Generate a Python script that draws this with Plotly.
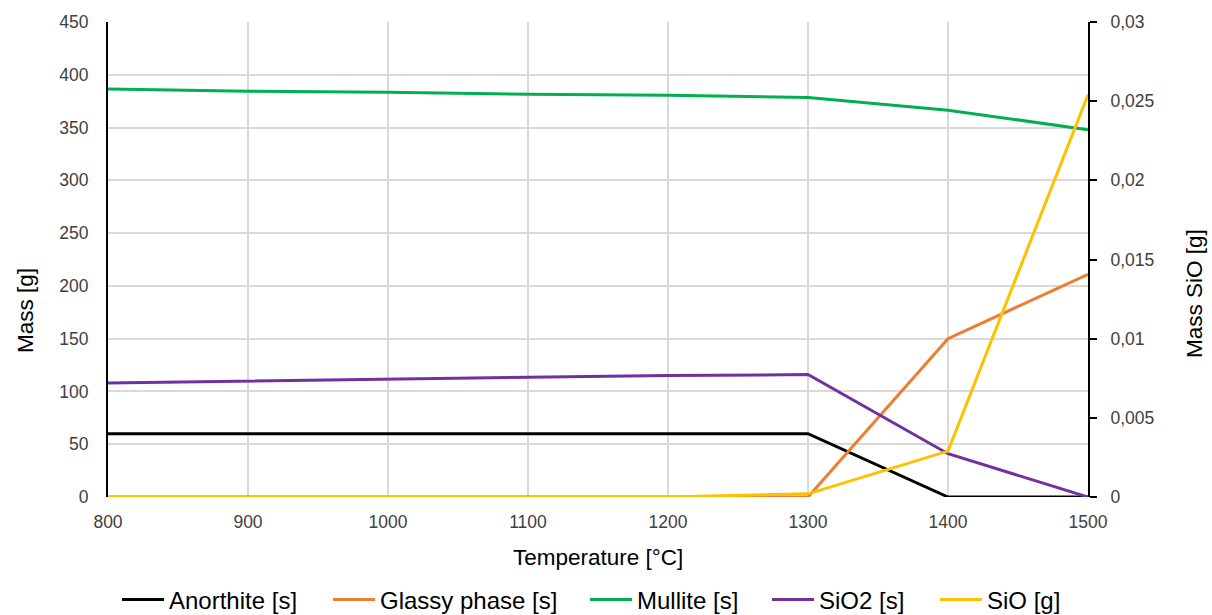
import plotly.graph_objects as go

# Temperatures [°C]
temperature = [800, 900, 1000, 1100, 1200, 1300, 1400, 1500]

# Phase masses [g] (left axis)
anorthite = [60, 60, 60, 60, 60, 60, 0, 0]
glassy_phase = [0, 0, 0, 0, 0, 0, 150, 211]
mullite = [386.5, 384.5, 383.5, 381.5, 380.5, 378.5, 366.5, 348]
sio2 = [108, 110, 112, 113.5, 115, 116, 41, 0]

# SiO gas mass [g] (right axis)
sio = [0, 0, 0, 0, 0, 0.0002, 0.0029, 0.0254]

left_ticks = [0, 50, 100, 150, 200, 250, 300, 350, 400, 450]
right_ticks = [0, 0.005, 0.01, 0.015, 0.02, 0.025, 0.03]
right_tick_text = ["0", "0,005", "0,01", "0,015", "0,02", "0,025", "0,03"]
x_ticks = [800, 900, 1000, 1100, 1200, 1300, 1400, 1500]

W, H = 1212, 615
FONT = "Liberation Sans, Arial, sans-serif"
tick_font = dict(family=FONT, size=17.5, color="#404040")
title_font = dict(family=FONT, size=22.5, color="#000000")
legend_font = dict(family=FONT, size=24, color="#000000")

series = [
    ("Anorthite [s]", anorthite, "#000000", "y"),
    ("Glassy phase [s]", glassy_phase, "#ED7D31", "y"),
    ("Mullite [s]", mullite, "#00B050", "y"),
    ("SiO2 [s]", sio2, "#7030A0", "y"),
    ("SiO [g]", sio, "#FFC000", "y2"),
]
# left edge of each legend entry's line sample, in pixels
legend_x_px = [122, 333, 590, 772, 940]

fig = go.Figure()
layout_legends = {}
for i, (name, values, color, axis) in enumerate(series):
    key = "legend" if i == 0 else f"legend{i + 1}"
    fig.add_trace(go.Scatter(
        x=temperature, y=values, name=name, mode="lines",
        line=dict(color=color, width=3), yaxis=axis, legend=key,
    ))
    layout_legends[key] = dict(
        xref="container", yref="container",
        x=(legend_x_px[i] - 5) / W, xanchor="left",
        y=1 - 600 / H, yanchor="middle",
        font=legend_font, itemwidth=42, bgcolor="rgba(0,0,0,0)",
    )

fig.update_layout(
    width=W, height=H,
    margin=dict(l=108, r=124, t=22, b=118, autoexpand=False),
    plot_bgcolor="white", paper_bgcolor="white",
    showlegend=True,
    xaxis=dict(
        range=[800, 1500], tickvals=x_ticks, showgrid=True, gridcolor="#d9d9d9", gridwidth=1.5,
        showline=False, zeroline=False, ticks="", tickfont=tick_font,
        ticklabelstandoff=12, automargin=False,
    ),
    yaxis=dict(
        range=[0, 450], tickvals=left_ticks, showgrid=True, gridcolor="#d9d9d9", gridwidth=1.5,
        showline=True, linecolor="#000000", linewidth=2, zeroline=False, ticks="",
        tickfont=tick_font, ticklabelstandoff=14, automargin=False,
    ),
    yaxis2=dict(
        range=[0, 0.03], tickvals=right_ticks, ticktext=right_tick_text,
        overlaying="y", side="right", showgrid=False, zeroline=False,
        showline=True, linecolor="#000000", linewidth=2,
        ticks="outside", ticklen=7, tickwidth=2, tickcolor="#000000",
        tickfont=tick_font, ticklabelstandoff=10, automargin=False,
    ),
    annotations=[
        dict(text="Temperature [°C]", xref="paper", yref="paper", x=0.5, y=(H - 557 - 118) / (H - 140),
             xanchor="center", yanchor="middle", showarrow=False, font=title_font),
        dict(text="Mass [g]", xref="paper", yref="paper", x=(25 - 108) / 980, y=(H - 118 - 311) / (H - 140),
             xanchor="center", yanchor="middle", showarrow=False, textangle=-90, font=title_font),
        dict(text="Mass SiO [g]", xref="paper", yref="paper", x=(1194 - 108) / 980, y=(H - 118 - 294) / (H - 140),
             xanchor="center", yanchor="middle", showarrow=False, textangle=-90, font=title_font),
    ],
    **layout_legends,
)

fig.write_html("out.html")
